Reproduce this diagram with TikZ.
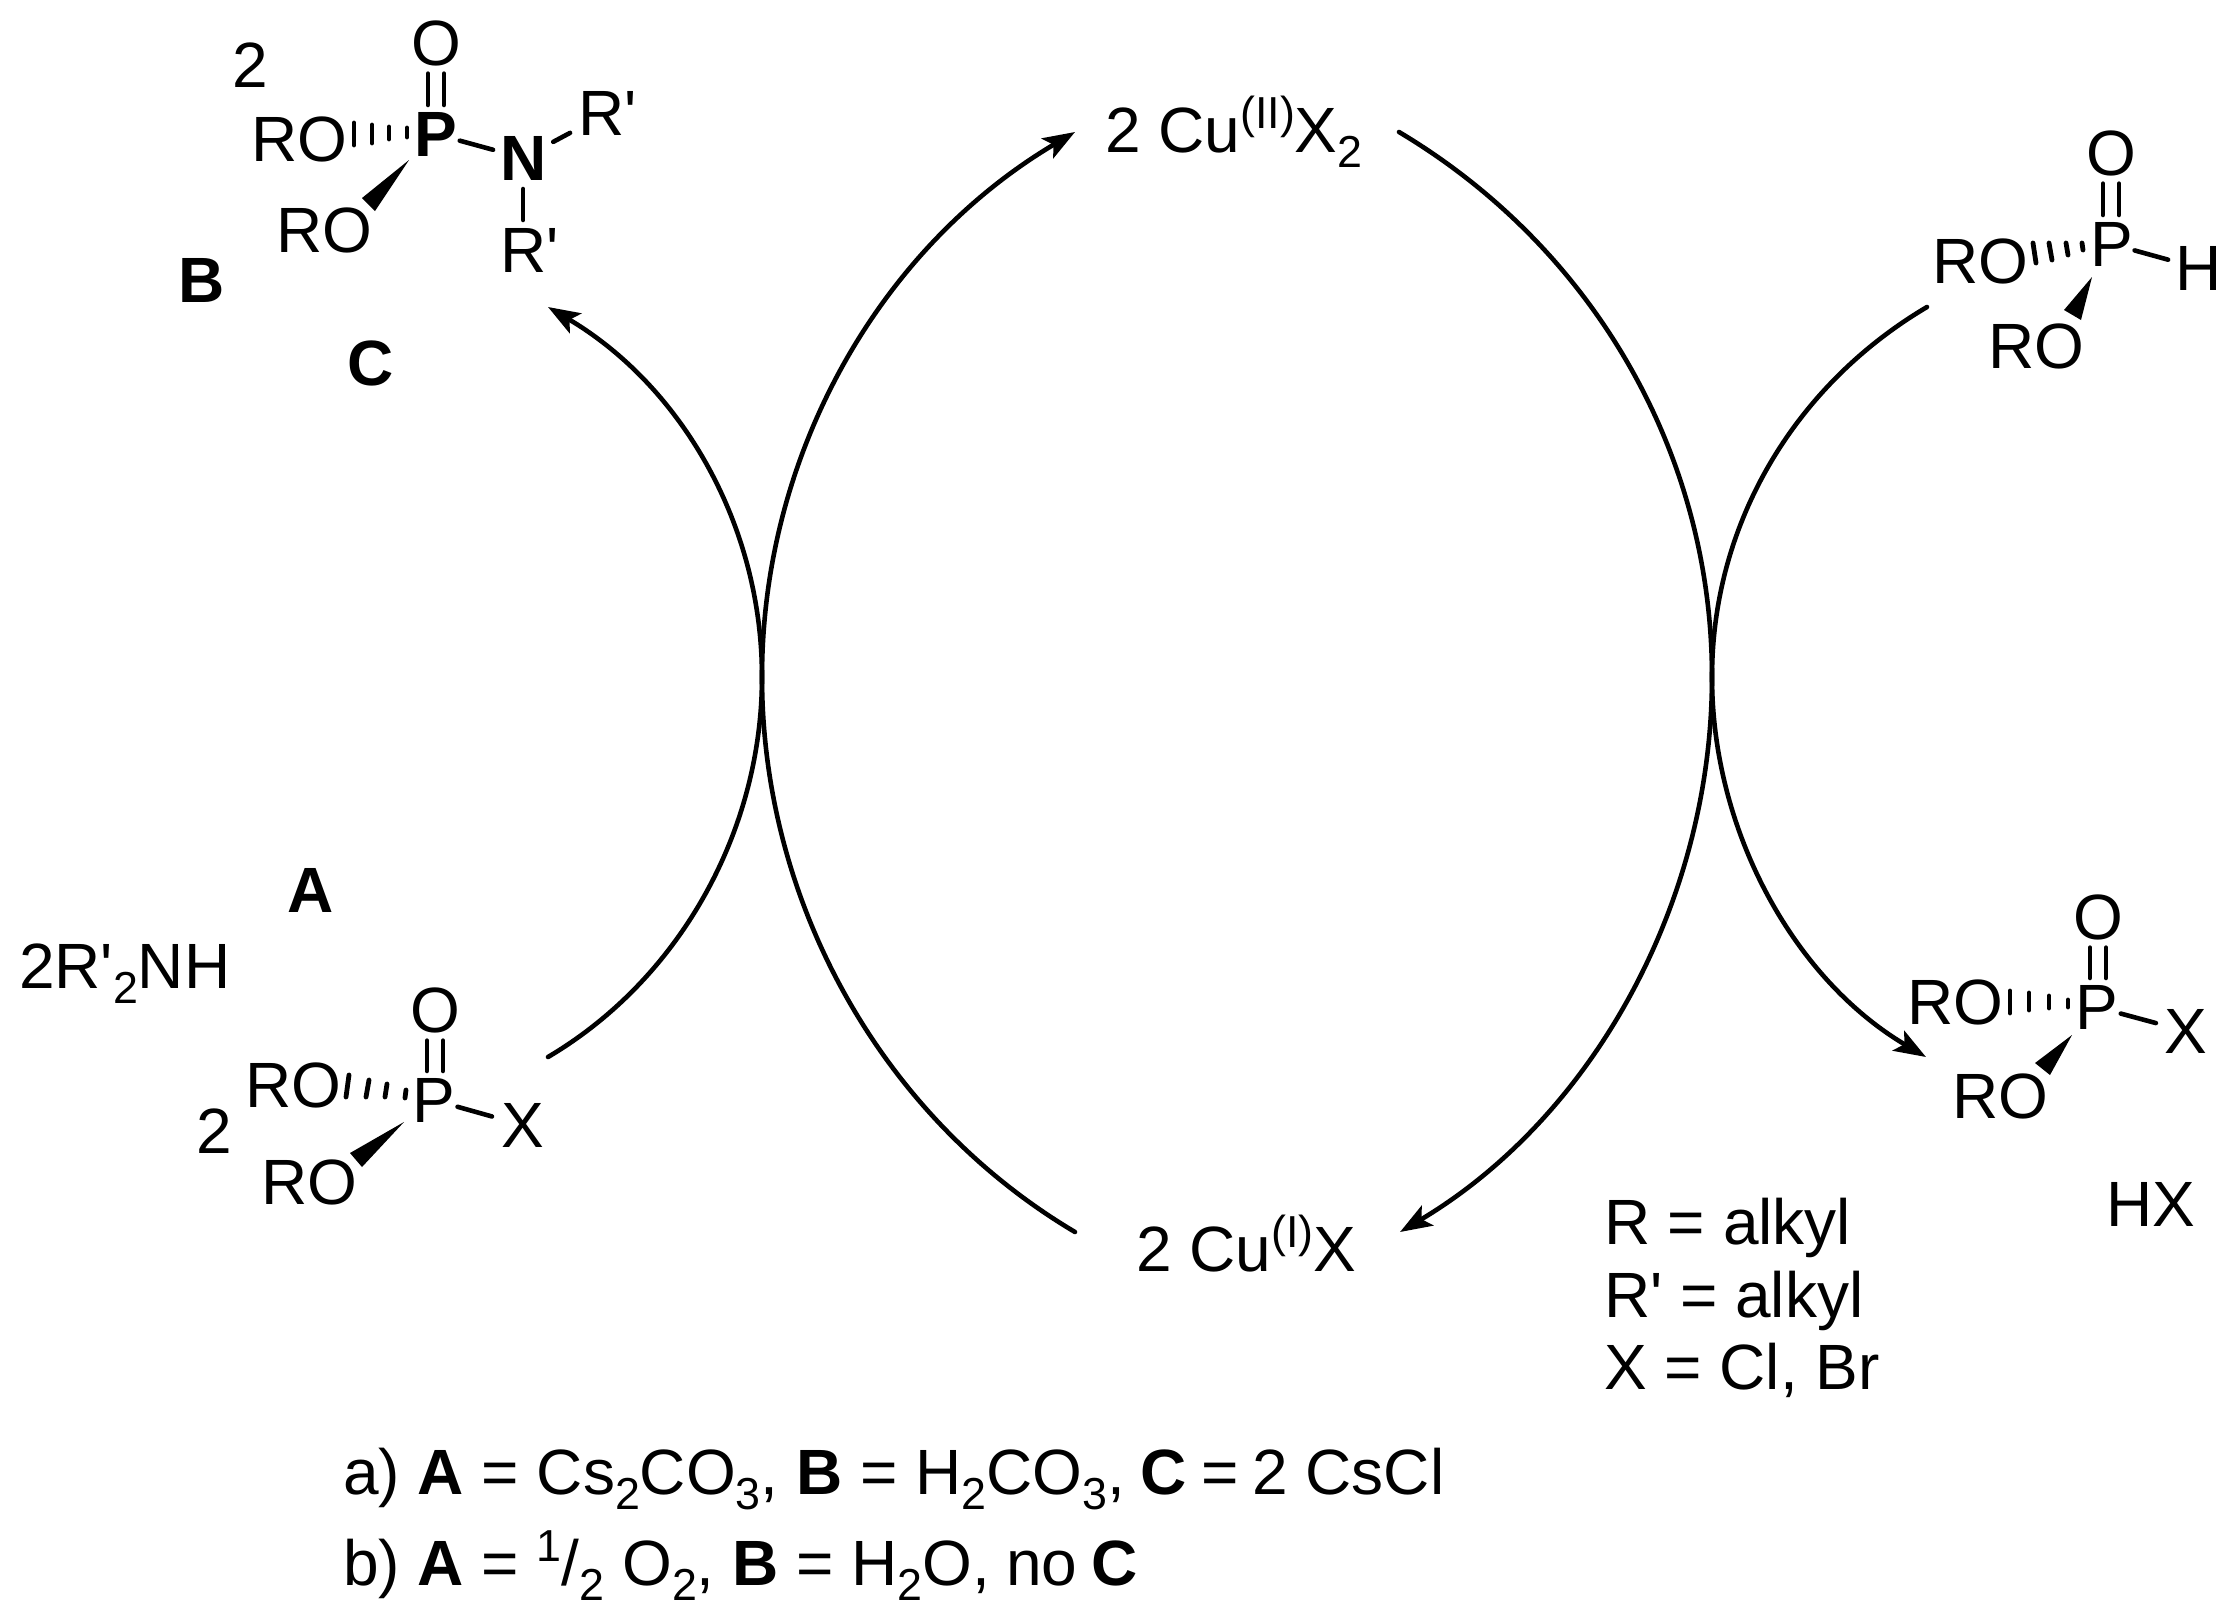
\documentclass[tikz,border=0pt]{standalone}
\usepackage{fontspec}
\usetikzlibrary{arrows.meta,calc}
\newfontfamily\arialfont{Liberation Sans}
\newcommand\sbs[1]{\raisebox{-7.5pt}{\fontsize{22.4}{24}\selectfont #1}}
\newcommand\sps[1]{\raisebox{12pt}{\fontsize{22.4}{24}\selectfont #1}}
\tikzset{
  lbl/.style={anchor=base west,inner sep=0pt,outer sep=0pt,font=\arialfont\fontsize{32}{36}\selectfont},
  boldlbl/.style={lbl,font=\arialfont\bfseries\fontsize{32}{36}\selectfont},
  bond/.style={line width=2.3pt,line cap=round},
  hashb/.style={line width=2.4pt,line cap=round},
  cycle arc/.style={line width=2.3pt,line cap=round},
  rarrow/.style={cycle arc,-{Stealth[length=16pt,width=11.5pt,inset=3.5pt]}}
}
% hashed bond: four strokes
\newcommand\hashbond[8]{\draw[hashb] #1 -- #2; \draw[hashb] #3 -- #4; \draw[hashb] #5 -- #6; \draw[hashb] #7 -- #8;}
% double bond between two named atoms
\newcommand\dblbond[2]{%
  \draw[bond,shorten <=4pt,shorten >=3.5pt] ([xshift=-4pt]#1.south) -- ([xshift=-4pt]#1.south |- #2.north);
  \draw[bond,shorten <=4pt,shorten >=3.5pt] ([xshift=4pt]#1.south) -- ([xshift=4pt]#1.south |- #2.north);}
\begin{document}
\begin{tikzpicture}[x=0.5pt,y=-0.5pt]
\useasboundingbox (0,0) rectangle (2240,1619);

% Product (top left)
\node[lbl] (two1) at (232,87) {2};
\node[lbl] (O1) at (411,65) {O};
\node[boldlbl] (P1) at (414,156) {P};
\node[lbl] (RO1a) at (251,161) {RO};
\node[lbl] (RO1b) at (276,252) {RO};
\node[boldlbl] (N1) at (500,180) {N};
\node[lbl] (R1a) at (578,135) {R'};
\node[lbl] (R1b) at (500,272) {R'};
\node[boldlbl] (labB) at (178,302) {B};
\node[boldlbl] (labC) at (347,385) {C};
\dblbond{O1}{P1}
\draw[bond,shorten <=1.6pt,shorten >=3.6pt] (P1) -- (N1);
\draw[bond,yshift=1.5pt,shorten <=4pt,shorten >=4.5pt] (N1) -- (R1a);
\draw[bond,shorten <=4.5pt,shorten >=4pt] (N1.south) -- (N1.south |- R1b.north);
\hashbond{(354,123)}{(354,145)}{(372,125)}{(372,143)}{(389,127)}{(389,139)}{(407,128)}{(407,137)}
\fill (409,160) -- (362,198) -- (375,211) -- cycle;

% Halide reagent (bottom left)
\node[boldlbl] (labA) at (287,912) {A};
\node[lbl] (amine) at (19,988) {2R'\sbs{2}NH};
\node[lbl] (O2) at (410,1032) {O};
\node[lbl] (P2) at (412,1122) {P};
\node[lbl] (RO2a) at (245,1107) {RO};
\node[lbl] (RO2b) at (261,1204) {RO};
\node[lbl] (X2) at (501,1147) {X};
\node[lbl] (two2) at (196,1153) {2};
\dblbond{O2}{P2}
\draw[bond,shorten <=1.5pt,shorten >=4.7pt] (P2) -- (X2);
\hashbond{(349,1075)}{(346,1097)}{(369,1080)}{(366,1097)}{(387,1084)}{(385,1097)}{(406,1090)}{(405,1098)}
\fill (404,1122) -- (350,1153) -- (362,1167) -- cycle;

% Phosphite (top right)
\node[lbl] (O3) at (2086,175) {O};
\node[lbl] (P3) at (2090,266) {P};
\node[lbl] (RO3a) at (1932,283) {RO};
\node[lbl] (RO3b) at (1988,368) {RO};
\node[lbl] (H3) at (2175,290) {H};
\dblbond{O3}{P3}
\draw[bond,shorten <=1pt,shorten >=3.6pt] (P3) -- (H3);
\hashbond{(2033,243)}{(2036,263)}{(2049,243)}{(2052,260)}{(2066,243)}{(2068,255)}{(2082,243)}{(2083,250)}
\fill (2092,277) -- (2064,310) -- (2081,320) -- cycle;

% Halophosphate (right)
\node[lbl] (O4) at (2073,939) {O};
\node[lbl] (P4) at (2075,1029) {P};
\node[lbl] (RO4a) at (1907,1024) {RO};
\node[lbl] (RO4b) at (1952,1118) {RO};
\node[lbl] (X4) at (2164,1053) {X};
\dblbond{O4}{P4}
\draw[bond,shorten <=1.6pt,shorten >=4.2pt] (P4) -- (X4);
\hashbond{(2010,991)}{(2010,1013)}{(2029,993)}{(2029,1010)}{(2049,996)}{(2049,1008)}{(2068,1000)}{(2068,1007)}
\fill (2072,1035) -- (2035,1063) -- (2050,1075) -- cycle;

% Copper species
\node[lbl] (CuII) at (1105,152) {2 Cu\sps{(II)}X\sbs{2}};
\node[lbl] (CuI) at (1136,1271) {2 Cu\sps{(I)}X};
\node[lbl] (HX) at (2106,1226) {HX};

% Legend
\node[lbl] (leg1) at (1604,1244) {R = alkyl};
\node[lbl] (leg2) at (1604,1317) {R' = alkyl};
\node[lbl] (leg3) at (1604,1389) {X = Cl, Br};
\node[lbl] (lineA) at (343,1494) {a) \textbf{A} = Cs\sbs{2}CO\sbs{3}, \textbf{B} = H\sbs{2}CO\sbs{3},\hspace{-1.5pt} \textbf{C}\hspace{-1.5pt} = \hspace{-2pt}2 CsCl};
\node[lbl] (lineB) at (343,1585) {b) \textbf{A} = \sps{1}/\sbs{2} O\sbs{2}, \textbf{B} = H\sbs{2}O,\hspace{-1pt} no\hspace{-2pt} \textbf{C}};

% Arc end points
\coordinate (aS) at (1075,1232);
\coordinate (aE) at (1075,132);
\coordinate (bS) at (1399,132);
\coordinate (bE) at (1400,1232);
\coordinate (cS) at (548,1057);
\coordinate (cE) at (548,307);
\coordinate (dS) at (1927,307);
\coordinate (dE) at (1926,1057);
\coordinate (mL) at (762,677);
\coordinate (mR) at (1712,677);

% Catalytic cycle arcs
\draw[rarrow] (aS) .. controls (881,1117) and (762,902) .. (mL) .. controls (762,452) and (881,247) .. (aE);
\draw[rarrow] (bS) .. controls (1592,247) and (1712,452) .. (mR) .. controls (1712,902) and (1593,1117) .. (bE);
\draw[rarrow] (cS) .. controls (680,979) and (762,831) .. (mL) .. controls (762,523) and (680,385) .. (cE);
\draw[rarrow] (dS) .. controls (1795,385) and (1712,523) .. (mR) .. controls (1712,831) and (1794,979) .. (dE);
\end{tikzpicture}
\end{document}
